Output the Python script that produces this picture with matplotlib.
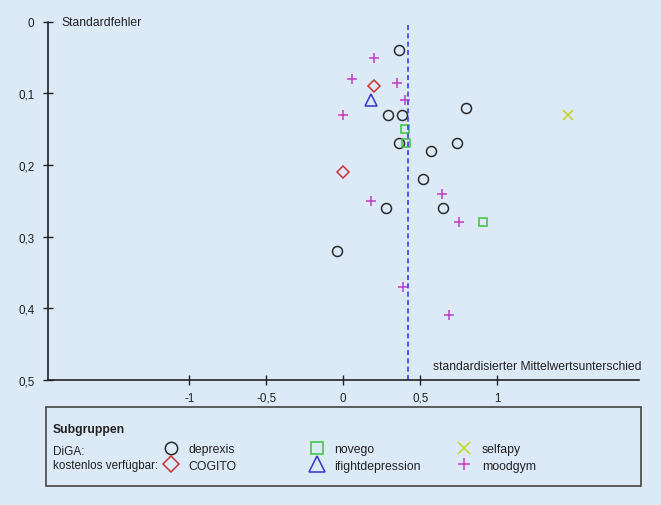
import numpy as np
import matplotlib.pyplot as plt
from matplotlib.lines import Line2D
from matplotlib.patches import Rectangle

plt.rcParams['font.family'] = ['Liberation Sans', 'DejaVu Sans']
plt.rcParams['font.size'] = 8

# standardisierter Mittelwertsunterschied (x) und Standardfehler (y)
deprexis_x = [0.36, 0.80, 0.29, 0.38, 0.36, 0.74, 0.57, 0.52, 0.28, 0.65, -0.04]
deprexis_y = [0.04, 0.12, 0.13, 0.13, 0.17, 0.17, 0.18, 0.22, 0.26, 0.26, 0.32]
cogito_x = [0.20, 0.00]
cogito_y = [0.09, 0.21]
ifight_x = [0.18]
ifight_y = [0.11]
novego_x = [0.40, 0.41, 0.91]
novego_y = [0.15, 0.17, 0.28]
selfapy_x = [1.46]
selfapy_y = [0.13]
moodgym_x = [0.20, 0.06, 0.35, 0.40, 0.00, 0.64, 0.18, 0.75, 0.39, 0.69]
moodgym_y = [0.05, 0.08, 0.085, 0.11, 0.13, 0.24, 0.25, 0.28, 0.37, 0.41]
mean_effect = 0.42

xticks = [-1, -0.5, 0, 0.5, 1]
xticklabels = ['-1', '-0,5', '0', '0,5', '1']
yticks = [0, 0.1, 0.2, 0.3, 0.4, 0.5]
yticklabels = ['0', '0,1', '0,2', '0,3', '0,4', '0,5']

bg = '#dce9f6'
txt = '#222222'

fig = plt.figure(figsize=(6.61, 5.06), dpi=100, facecolor=bg)
ax = fig.add_axes([0.0722, 0.2476, 0.894, 0.7075], facecolor=bg)

# marker, Groesse im Plot, Groesse in der Legende, Farbe
styles = {
    'deprexis': ('o', 7.2, 8.9, '#2a2a2a'),
    'COGITO': ('D', 6.6, 8.1, '#cc3333'),
    'ifightdepression': ('^', 8.6, 11.5, '#3333cc'),
    'novego': ('s', 6.3, 8.4, '#3cc33c'),
    'selfapy': ('x', 7.2, 8.7, '#c8d41e'),
    'moodgym': ('+', 7.0, 8.7, '#c23cc8'),
}

series = {
    'deprexis': (deprexis_x, deprexis_y),
    'COGITO': (cogito_x, cogito_y),
    'ifightdepression': (ifight_x, ifight_y),
    'novego': (novego_x, novego_y),
    'selfapy': (selfapy_x, selfapy_y),
    'moodgym': (moodgym_x, moodgym_y),
}

handles = {}
for name, (x, y) in series.items():
    m, ms, ms_leg, c = styles[name]
    ax.plot(x, y, linestyle='none', marker=m, ms=ms, mfc='none', mec=c, mew=1.1, label=name)
    handles[name] = Line2D([], [], linestyle='none', marker=m, ms=ms_leg, mfc='none',
                           mec=c, mew=1.1)

ax.axvline(mean_effect, color='#3a3aee', lw=1.2, ls=(0, (3, 2)))

ax.set_xlim(-1.92, 1.92)
ax.set_ylim(0.5, 0)
ax.set_xticks(xticks)
ax.set_xticklabels(xticklabels)
ax.set_yticks(yticks)
ax.set_yticklabels(yticklabels)
for s in ['top', 'right']:
    ax.spines[s].set_visible(False)
for s in ['left', 'bottom']:
    ax.spines[s].set_color('#222222')
    ax.spines[s].set_linewidth(1.2)
ax.tick_params(axis='both', direction='inout', length=6.5, width=1.0,
               color='#222222', labelcolor=txt, labelsize=8.4)
ax.tick_params(axis='y', pad=6.3)
ax.tick_params(axis='x', pad=5.5)

ax.text(0.0225, 0, 'Standardfehler', transform=ax.get_yaxis_transform(),
        ha='left', va='center', fontsize=8.7, color=txt)
ax.text(1.004, 0.481, 'standardisierter Mittelwertsunterschied',
        transform=ax.get_yaxis_transform(), ha='right', va='center',
        fontsize=8.7, color=txt)

# Legendenkasten
fig.patches.append(Rectangle((0.0696, 0.0375), 0.900, 0.156, transform=fig.transFigure,
                             fill=False, edgecolor='#444444', lw=1.2))
fig.text(0.080, 0.1449, 'Subgruppen', fontweight='bold', fontsize=8.7,
         ha='left', va='baseline', color=txt)
fig.text(0.080, 0.1010, 'DiGA:', fontsize=8.5, ha='left', va='baseline', color=txt)
fig.text(0.080, 0.0730, 'kostenlos verfügbar:', fontsize=8.4, ha='left', va='baseline', color=txt)

columns = [['deprexis', 'COGITO'], ['novego', 'ifightdepression'], ['selfapy', 'moodgym']]
col_left = [163.5, 309.4, 456.7]
for names, left in zip(columns, col_left):
    fig.legend([handles[n] for n in names], names, loc='center left',
               bbox_to_anchor=(left / 661, 0.094), frameon=False, borderpad=0,
               borderaxespad=0, handlelength=1.2, handletextpad=0.85,
               labelspacing=0.35, fontsize=8.8, labelcolor=txt)

fig.savefig('out.png', dpi=100, facecolor=bg)
